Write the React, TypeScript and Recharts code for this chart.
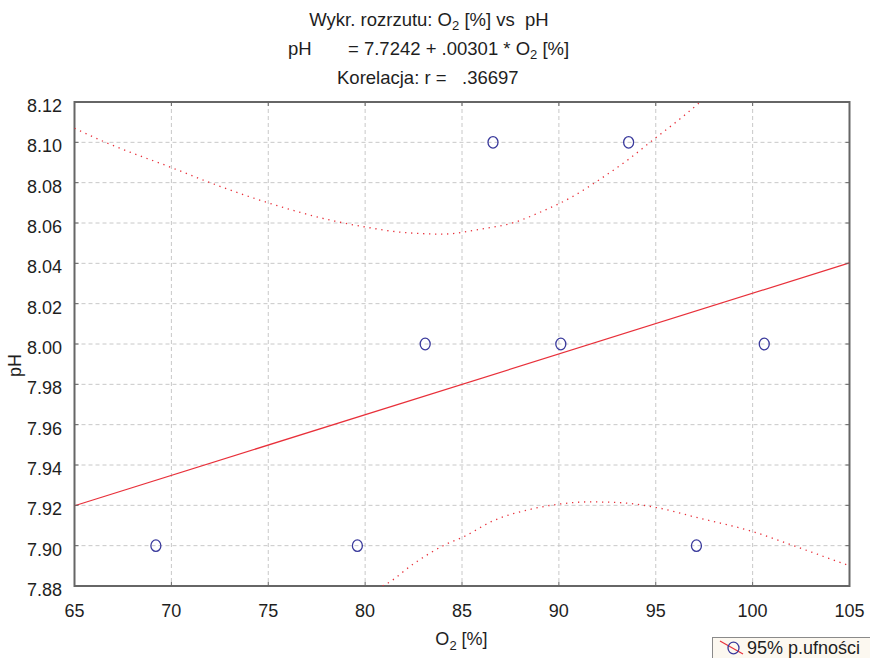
import React from "react";
import {
  ComposedChart,
  Line,
  Scatter,
  XAxis,
  YAxis,
  CartesianGrid,
  ReferenceArea,
} from "recharts";

// ---- data ----
const pointsO2 = [69.2, 79.6, 83.1, 86.6, 90.1, 93.6, 97.1, 100.6];
const pointsPH = [7.9, 7.9, 8.0, 8.1, 8.0, 8.1, 7.9, 8.0];

const regO2 = [65, 105];
const regPH = [7.9198, 8.0402];

const upperO2 = [65, 66.6, 70, 72, 75, 78.4, 80, 82, 84, 86, 87.7, 89, 90.8, 92.2, 93.6, 94.9, 96.3, 97.3];
const upperPH = [8.107, 8.1, 8.0875, 8.08, 8.07, 8.061, 8.058, 8.0553, 8.0545, 8.057, 8.0603, 8.0652, 8.0736, 8.0822, 8.0916, 8.1015, 8.112, 8.12];

const lowerO2 = [80.9, 81.1, 82.5, 84.2, 85.0, 86.6, 88.7, 90.0, 91.6, 93.0, 95.0, 97.1, 100.0, 102.1, 105];
const lowerPH = [7.88, 7.881, 7.891, 7.9008, 7.904, 7.9123, 7.9184, 7.9206, 7.9217, 7.9214, 7.919, 7.914, 7.907, 7.9, 7.89];

const xTicks = [65, 70, 75, 80, 85, 90, 95, 100, 105];
const yTicks = [7.88, 7.9, 7.92, 7.94, 7.96, 7.98, 8.0, 8.02, 8.04, 8.06, 8.08, 8.1, 8.12];

// ---- layout ----
const W = 870;
const H = 658;
const Y_AXIS_W = 60;
const X_AXIS_H = 40;
const MARGIN = { top: 102, right: 20.5, bottom: 32, left: 14.5 };
const PLOT_W = W - MARGIN.left - MARGIN.right - Y_AXIS_W;
const PLOT_H = H - MARGIN.top - MARGIN.bottom - X_AXIS_H;

const FONT = '"Liberation Sans", Arial, Helvetica, sans-serif';
const TEXT = "#1e1e1e";
const RED = "#e8303a";
const BLUE = "#3a3a9c";
const AXIS = "#666";
const TITLE_FS = 18.5;

const scatterData = pointsO2.map((x, i) => ({ x, y: pointsPH[i] }));
const regData = regO2.map((x, i) => ({ x, y: regPH[i] }));
const upperData = upperO2.map((x, i) => ({ x, y: upperPH[i] }));
const lowerData = lowerO2.map((x, i) => ({ x, y: lowerPH[i] }));

const fmtY = (v: number) => v.toFixed(2);

const YTick = (props: any) => {
  const { x, y, payload } = props;
  return (
    <g>
      <line x1={x} x2={x + 4} y1={y} y2={y} stroke={AXIS} strokeWidth={1} />
      <line x1={x + PLOT_W - 4} x2={x + PLOT_W} y1={y} y2={y} stroke={AXIS} strokeWidth={1} />
      <text
        x={x - 12.5}
        y={y + 10}
        textAnchor="end"
        fontSize={18}
        fontFamily={FONT}
        fill={TEXT}
      >
        {fmtY(payload.value)}
      </text>
    </g>
  );
};

const XTick = (props: any) => {
  const { x, y, payload } = props;
  return (
    <g>
      <line x1={x} x2={x} y1={y - 4} y2={y} stroke={AXIS} strokeWidth={1} />
      <line x1={x} x2={x} y1={y - PLOT_H} y2={y - PLOT_H + 4} stroke={AXIS} strokeWidth={1} />
      <text
        x={x}
        y={y + 31}
        textAnchor="middle"
        fontSize={18}
        fontFamily={FONT}
        fill={TEXT}
      >
        {payload.value}
      </text>
    </g>
  );
};

const Ring = (props: any) => {
  const { cx, cy } = props;
  if (cx == null || cy == null) return null;
  return <ellipse cx={cx} cy={cy} rx={5} ry={5.8} fill="none" stroke={BLUE} strokeWidth={1.3} />;
};

export default function App() {
  return (
    <div
      style={{
        position: "absolute",
        left: 0,
        top: 0,
        width: W,
        height: H,
        background: "#fff",
        overflow: "hidden",
      }}
    >
      <ComposedChart width={W} height={H} margin={MARGIN}>
        <CartesianGrid stroke="#c8c8c8" strokeDasharray="4 3" />
        <XAxis
          type="number"
          dataKey="x"
          domain={[65, 105]}
          ticks={xTicks}
          interval={0}
          height={X_AXIS_H}
          tickSize={0}
          tickMargin={0}
          tickLine={false}
          axisLine={false}
          tick={<XTick />}
          allowDataOverflow
        />
        <YAxis
          type="number"
          dataKey="y"
          domain={[7.88, 8.12]}
          ticks={yTicks}
          interval={0}
          width={Y_AXIS_W}
          tickSize={0}
          tickMargin={0}
          tickLine={false}
          axisLine={false}
          tick={<YTick />}
          allowDataOverflow
        />
        <ReferenceArea
          x1={65}
          x2={105}
          y1={7.88}
          y2={8.12}
          fill="none"
          fillOpacity={0}
          stroke={AXIS}
          strokeWidth={2}
          strokeOpacity={1}
        />
        <Line
          data={upperData}
          dataKey="y"
          type="monotone"
          stroke={RED}
          strokeWidth={1.3}
          strokeDasharray="1.3 4.7"
          dot={false}
          activeDot={false}
          isAnimationActive={false}
        />
        <Line
          data={lowerData}
          dataKey="y"
          type="monotone"
          stroke={RED}
          strokeWidth={1.3}
          strokeDasharray="1.3 4.7"
          dot={false}
          activeDot={false}
          isAnimationActive={false}
        />
        <Line
          data={regData}
          dataKey="y"
          type="linear"
          stroke={RED}
          strokeWidth={1.2}
          dot={false}
          activeDot={false}
          isAnimationActive={false}
        />
        <Scatter data={scatterData} dataKey="y" shape={<Ring />} isAnimationActive={false} />
      </ComposedChart>

      <svg
        width={W}
        height={H}
        style={{ position: "absolute", left: 0, top: 0, pointerEvents: "none" }}
        fontFamily={FONT}
      >
        {/* titles */}
        <text x={429} y={26} textAnchor="middle" fontSize={TITLE_FS} fill={TEXT} style={{ whiteSpace: "pre" }}>
          <tspan>Wykr. rozrzutu: O</tspan>
          <tspan fontSize={13} dy={4}>2</tspan>
          <tspan dy={-4}>{" [%] vs  pH"}</tspan>
        </text>
        <text x={288} y={55} fontSize={TITLE_FS} fill={TEXT}>
          pH
        </text>
        <text x={348} y={55} fontSize={TITLE_FS} fill={TEXT} style={{ whiteSpace: "pre" }}>
          <tspan>= 7.7242 + .00301 * O</tspan>
          <tspan fontSize={13} dy={4}>2</tspan>
          <tspan dy={-4}>{" [%]"}</tspan>
        </text>
        <text x={337} y={84} fontSize={TITLE_FS} fill={TEXT}>
          Korelacja: r =
        </text>
        <text x={462} y={84} fontSize={TITLE_FS} fill={TEXT}>
          .36697
        </text>

        {/* axis titles */}
        <text x={461.5} y={645} textAnchor="middle" fontSize={18} fill={TEXT} style={{ whiteSpace: "pre" }}>
          <tspan>O</tspan>
          <tspan fontSize={13} dy={5}>2</tspan>
          <tspan dy={-5}>{" [%]"}</tspan>
        </text>
        <text
          x={20.5}
          y={365.5}
          textAnchor="middle"
          fontSize={18}
          fill={TEXT}
          transform="rotate(-90 20.5 365.5)"
        >
          pH
        </text>

        {/* legend */}
        <rect x={712.5} y={637.5} width={170} height={40} fill="#fcf8f0" stroke="#8a8a8a" strokeWidth={1} />
        <line x1={720} y1={641} x2={743} y2={654} stroke={RED} strokeWidth={1.2} />
        <ellipse cx={733.5} cy={648} rx={5.5} ry={5.8} fill="none" stroke={BLUE} strokeWidth={1.3} />
        <text x={747} y={654} fontSize={18} fill={TEXT}>
          95% p.ufności
        </text>
      </svg>
    </div>
  );
}
